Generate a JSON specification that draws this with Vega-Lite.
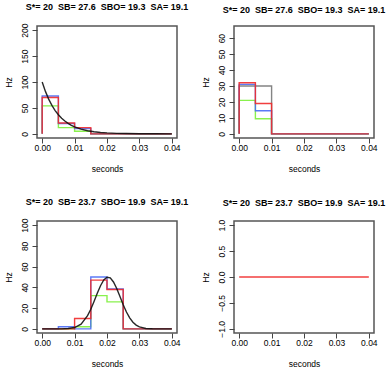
{
  "$schema": "https://vega.github.io/schema/vega-lite/v6.json",
  "autosize": {"type": "pad"},
  "padding": {"left": 3, "top": 2, "right": 2, "bottom": 2},
  "background": "white",
  "bounds": "flush",
  "columns": 2,
  "spacing": {"row": 83, "column": 57},
  "config": {
    "font": "Liberation Sans",
    "view": {"stroke": "#555555", "strokeWidth": 1.5},
    "title": {"fontSize": 9, "fontWeight": "bold", "font": "Liberation Sans", "offset": 11, "anchor": "middle", "color": "#000000"},
    "axis": {"domain": false, "grid": false, "tickSize": 5, "tickColor": "#444444", "labelFont": "Liberation Sans", "labelFontSize": 8.5, "labelColor": "#000000", "titleFont": "Liberation Sans", "titleFontSize": 8.5, "titleFontWeight": "normal", "titleColor": "#000000", "labelOverlap": false},
    "axisX": {"labelPadding": 0, "titlePadding": 13, "labelFlush": false},
    "axisY": {"labelAngle": 270, "labelAlign": "center", "labelBaseline": "bottom", "labelPadding": 3, "titleX": -29, "titleY": 56, "titleAlign": "center", "titleBaseline": "middle", "titleAngle": 270},
    "line": {"strokeWidth": 1.4, "opacity": 0.9}
  },
  "datasets": {
    "d": [
      {"p": 1, "s": "green", "o": 1, "x": 0, "y": 0},
      {"p": 1, "s": "green", "o": 2, "x": 0, "y": 54},
      {"p": 1, "s": "green", "o": 3, "x": 0.005, "y": 54},
      {"p": 1, "s": "green", "o": 4, "x": 0.005, "y": 12},
      {"p": 1, "s": "green", "o": 5, "x": 0.01, "y": 12},
      {"p": 1, "s": "green", "o": 6, "x": 0.01, "y": 5},
      {"p": 1, "s": "green", "o": 7, "x": 0.015, "y": 5},
      {"p": 1, "s": "green", "o": 8, "x": 0.015, "y": 0},
      {"p": 1, "s": "green", "o": 9, "x": 0.04, "y": 0},
      {"p": 1, "s": "blue", "o": 1, "x": 0, "y": 0},
      {"p": 1, "s": "blue", "o": 2, "x": 0, "y": 73},
      {"p": 1, "s": "blue", "o": 3, "x": 0.005, "y": 73},
      {"p": 1, "s": "blue", "o": 4, "x": 0.005, "y": 20},
      {"p": 1, "s": "blue", "o": 5, "x": 0.01, "y": 20},
      {"p": 1, "s": "blue", "o": 6, "x": 0.01, "y": 10},
      {"p": 1, "s": "blue", "o": 7, "x": 0.015, "y": 10},
      {"p": 1, "s": "blue", "o": 8, "x": 0.015, "y": 0},
      {"p": 1, "s": "blue", "o": 9, "x": 0.04, "y": 0},
      {"p": 1, "s": "red", "o": 1, "x": 0, "y": 0},
      {"p": 1, "s": "red", "o": 2, "x": 0, "y": 70},
      {"p": 1, "s": "red", "o": 3, "x": 0.005, "y": 70},
      {"p": 1, "s": "red", "o": 4, "x": 0.005, "y": 21},
      {"p": 1, "s": "red", "o": 5, "x": 0.01, "y": 21},
      {"p": 1, "s": "red", "o": 6, "x": 0.01, "y": 12},
      {"p": 1, "s": "red", "o": 7, "x": 0.015, "y": 12},
      {"p": 1, "s": "red", "o": 8, "x": 0.015, "y": 0},
      {"p": 1, "s": "red", "o": 9, "x": 0.04, "y": 0},
      {"p": 1, "s": "black", "o": 1, "x": 0, "y": 100},
      {"p": 1, "s": "black", "o": 2, "x": 0.001, "y": 81.9},
      {"p": 1, "s": "black", "o": 3, "x": 0.002, "y": 67},
      {"p": 1, "s": "black", "o": 4, "x": 0.003, "y": 54.9},
      {"p": 1, "s": "black", "o": 5, "x": 0.004, "y": 44.9},
      {"p": 1, "s": "black", "o": 6, "x": 0.005, "y": 36.8},
      {"p": 1, "s": "black", "o": 7, "x": 0.006, "y": 30.1},
      {"p": 1, "s": "black", "o": 8, "x": 0.007, "y": 24.7},
      {"p": 1, "s": "black", "o": 9, "x": 0.008, "y": 20.2},
      {"p": 1, "s": "black", "o": 10, "x": 0.009, "y": 16.5},
      {"p": 1, "s": "black", "o": 11, "x": 0.01, "y": 13.5},
      {"p": 1, "s": "black", "o": 12, "x": 0.012, "y": 9.1},
      {"p": 1, "s": "black", "o": 13, "x": 0.014, "y": 6.1},
      {"p": 1, "s": "black", "o": 14, "x": 0.016, "y": 4.1},
      {"p": 1, "s": "black", "o": 15, "x": 0.018, "y": 2.7},
      {"p": 1, "s": "black", "o": 16, "x": 0.02, "y": 1.8},
      {"p": 1, "s": "black", "o": 17, "x": 0.023, "y": 1},
      {"p": 1, "s": "black", "o": 18, "x": 0.026, "y": 0.6},
      {"p": 1, "s": "black", "o": 19, "x": 0.03, "y": 0.2},
      {"p": 1, "s": "black", "o": 20, "x": 0.035, "y": 0.1},
      {"p": 1, "s": "black", "o": 21, "x": 0.04, "y": 0},
      {"p": 2, "s": "gray", "o": 1, "x": 0, "y": 0},
      {"p": 2, "s": "gray", "o": 2, "x": 0, "y": 30},
      {"p": 2, "s": "gray", "o": 3, "x": 0.01, "y": 30},
      {"p": 2, "s": "gray", "o": 4, "x": 0.01, "y": 0},
      {"p": 2, "s": "gray", "o": 5, "x": 0.04, "y": 0},
      {"p": 2, "s": "green", "o": 1, "x": 0, "y": 0},
      {"p": 2, "s": "green", "o": 2, "x": 0, "y": 21},
      {"p": 2, "s": "green", "o": 3, "x": 0.005, "y": 21},
      {"p": 2, "s": "green", "o": 4, "x": 0.005, "y": 9.5},
      {"p": 2, "s": "green", "o": 5, "x": 0.01, "y": 9.5},
      {"p": 2, "s": "green", "o": 6, "x": 0.01, "y": 0},
      {"p": 2, "s": "green", "o": 7, "x": 0.04, "y": 0},
      {"p": 2, "s": "blue", "o": 1, "x": 0, "y": 0},
      {"p": 2, "s": "blue", "o": 2, "x": 0, "y": 31},
      {"p": 2, "s": "blue", "o": 3, "x": 0.005, "y": 31},
      {"p": 2, "s": "blue", "o": 4, "x": 0.005, "y": 14.5},
      {"p": 2, "s": "blue", "o": 5, "x": 0.01, "y": 14.5},
      {"p": 2, "s": "blue", "o": 6, "x": 0.01, "y": 0},
      {"p": 2, "s": "blue", "o": 7, "x": 0.04, "y": 0},
      {"p": 2, "s": "red", "o": 1, "x": 0, "y": 0},
      {"p": 2, "s": "red", "o": 2, "x": 0, "y": 32},
      {"p": 2, "s": "red", "o": 3, "x": 0.005, "y": 32},
      {"p": 2, "s": "red", "o": 4, "x": 0.005, "y": 19},
      {"p": 2, "s": "red", "o": 5, "x": 0.01, "y": 19},
      {"p": 2, "s": "red", "o": 6, "x": 0.01, "y": 0},
      {"p": 2, "s": "red", "o": 7, "x": 0.04, "y": 0},
      {"p": 3, "s": "green", "o": 1, "x": 0, "y": 0},
      {"p": 3, "s": "green", "o": 2, "x": 0.01, "y": 0},
      {"p": 3, "s": "green", "o": 3, "x": 0.01, "y": 2},
      {"p": 3, "s": "green", "o": 4, "x": 0.015, "y": 2},
      {"p": 3, "s": "green", "o": 5, "x": 0.015, "y": 32},
      {"p": 3, "s": "green", "o": 6, "x": 0.02, "y": 32},
      {"p": 3, "s": "green", "o": 7, "x": 0.02, "y": 26},
      {"p": 3, "s": "green", "o": 8, "x": 0.025, "y": 26},
      {"p": 3, "s": "green", "o": 9, "x": 0.025, "y": 0},
      {"p": 3, "s": "green", "o": 10, "x": 0.04, "y": 0},
      {"p": 3, "s": "blue", "o": 1, "x": 0, "y": 0},
      {"p": 3, "s": "blue", "o": 2, "x": 0.005, "y": 0},
      {"p": 3, "s": "blue", "o": 3, "x": 0.005, "y": 2},
      {"p": 3, "s": "blue", "o": 4, "x": 0.01, "y": 2},
      {"p": 3, "s": "blue", "o": 5, "x": 0.01, "y": 0},
      {"p": 3, "s": "blue", "o": 6, "x": 0.015, "y": 0},
      {"p": 3, "s": "blue", "o": 7, "x": 0.015, "y": 50},
      {"p": 3, "s": "blue", "o": 8, "x": 0.02, "y": 50},
      {"p": 3, "s": "blue", "o": 9, "x": 0.02, "y": 38.5},
      {"p": 3, "s": "blue", "o": 10, "x": 0.025, "y": 38.5},
      {"p": 3, "s": "blue", "o": 11, "x": 0.025, "y": 0},
      {"p": 3, "s": "blue", "o": 12, "x": 0.04, "y": 0},
      {"p": 3, "s": "red", "o": 1, "x": 0, "y": 0},
      {"p": 3, "s": "red", "o": 2, "x": 0.01, "y": 0},
      {"p": 3, "s": "red", "o": 3, "x": 0.01, "y": 10},
      {"p": 3, "s": "red", "o": 4, "x": 0.015, "y": 10},
      {"p": 3, "s": "red", "o": 5, "x": 0.015, "y": 47},
      {"p": 3, "s": "red", "o": 6, "x": 0.02, "y": 47},
      {"p": 3, "s": "red", "o": 7, "x": 0.02, "y": 38},
      {"p": 3, "s": "red", "o": 8, "x": 0.025, "y": 38},
      {"p": 3, "s": "red", "o": 9, "x": 0.025, "y": 0},
      {"p": 3, "s": "red", "o": 10, "x": 0.04, "y": 0},
      {"p": 3, "s": "black", "o": 1, "x": 0, "y": 0},
      {"p": 3, "s": "black", "o": 2, "x": 0.006, "y": 0},
      {"p": 3, "s": "black", "o": 3, "x": 0.008, "y": 0.3},
      {"p": 3, "s": "black", "o": 4, "x": 0.01, "y": 1.3},
      {"p": 3, "s": "black", "o": 5, "x": 0.012, "y": 4.6},
      {"p": 3, "s": "black", "o": 6, "x": 0.014, "y": 12.7},
      {"p": 3, "s": "black", "o": 7, "x": 0.015, "y": 18.9},
      {"p": 3, "s": "black", "o": 8, "x": 0.016, "y": 26.4},
      {"p": 3, "s": "black", "o": 9, "x": 0.017, "y": 34.3},
      {"p": 3, "s": "black", "o": 10, "x": 0.018, "y": 41.6},
      {"p": 3, "s": "black", "o": 11, "x": 0.019, "y": 47.2},
      {"p": 3, "s": "black", "o": 12, "x": 0.02, "y": 49.8},
      {"p": 3, "s": "black", "o": 13, "x": 0.021, "y": 49.2},
      {"p": 3, "s": "black", "o": 14, "x": 0.022, "y": 45.2},
      {"p": 3, "s": "black", "o": 15, "x": 0.023, "y": 38.9},
      {"p": 3, "s": "black", "o": 16, "x": 0.024, "y": 31.1},
      {"p": 3, "s": "black", "o": 17, "x": 0.025, "y": 23.3},
      {"p": 3, "s": "black", "o": 18, "x": 0.026, "y": 16.2},
      {"p": 3, "s": "black", "o": 19, "x": 0.027, "y": 10.6},
      {"p": 3, "s": "black", "o": 20, "x": 0.028, "y": 6.4},
      {"p": 3, "s": "black", "o": 21, "x": 0.029, "y": 3.6},
      {"p": 3, "s": "black", "o": 22, "x": 0.03, "y": 1.9},
      {"p": 3, "s": "black", "o": 23, "x": 0.032, "y": 0.4},
      {"p": 3, "s": "black", "o": 24, "x": 0.034, "y": 0.1},
      {"p": 3, "s": "black", "o": 25, "x": 0.04, "y": 0},
      {"p": 4, "s": "red", "o": 1, "x": 0, "y": 0},
      {"p": 4, "s": "red", "o": 2, "x": 0.04, "y": 0}
    ]
  },
  "concat": [
    {
      "width": 140, "height": 112,
      "title": "S*= 20\u00a0\u00a0SB= 27.6\u00a0\u00a0SBO= 19.3\u00a0\u00a0SA= 19.1",
      "data": {"name": "d"},
      "transform": [{"filter": "datum.p == 1"}],
      "mark": {"type": "line", "clip": true},
      "encoding": {
        "x": {"field": "x", "type": "quantitative", "scale": {"domain": [-0.0016, 0.0416], "nice": false, "zero": false}, "axis": {"values": [0, 0.01, 0.02, 0.03, 0.04], "format": ".2f", "title": "seconds"}},
        "y": {"field": "y", "type": "quantitative", "scale": {"domain": [-8, 208], "nice": false, "zero": false}, "axis": {"values": [0, 50, 100, 150, 200], "format": "d", "title": "Hz"}},
        "color": {"field": "s", "type": "nominal", "scale": {"domain": ["black", "gray", "green", "blue", "red"], "range": ["#111111", "#777777", "#7cf03a", "#4a6cf5", "#f02a2a"]}, "legend": null},
        "order": {"field": "o", "type": "quantitative"}
      }
    },
    {
      "width": 140, "height": 112,
      "title": "S*= 20\u00a0\u00a0SB= 27.6\u00a0\u00a0SBO= 19.3\u00a0\u00a0SA= 19.1",
      "data": {"name": "d"},
      "transform": [{"filter": "datum.p == 2"}],
      "mark": {"type": "line", "clip": true},
      "encoding": {
        "x": {"field": "x", "type": "quantitative", "scale": {"domain": [-0.0016, 0.0416], "nice": false, "zero": false}, "axis": {"values": [0, 0.01, 0.02, 0.03, 0.04], "format": ".2f", "title": "seconds"}},
        "y": {"field": "y", "type": "quantitative", "scale": {"domain": [-2.6, 67.6], "nice": false, "zero": false}, "axis": {"values": [0, 10, 20, 30, 40, 50, 60], "format": "d", "title": "Hz"}},
        "color": {"field": "s", "type": "nominal", "scale": {"domain": ["black", "gray", "green", "blue", "red"], "range": ["#111111", "#777777", "#7cf03a", "#4a6cf5", "#f02a2a"]}, "legend": null},
        "order": {"field": "o", "type": "quantitative"}
      }
    },
    {
      "width": 140, "height": 112,
      "title": "S*= 20\u00a0\u00a0SB= 23.7\u00a0\u00a0SBO= 19.9\u00a0\u00a0SA= 19.1",
      "data": {"name": "d"},
      "transform": [{"filter": "datum.p == 3"}],
      "mark": {"type": "line", "clip": true},
      "encoding": {
        "x": {"field": "x", "type": "quantitative", "scale": {"domain": [-0.0016, 0.0416], "nice": false, "zero": false}, "axis": {"values": [0, 0.01, 0.02, 0.03, 0.04], "format": ".2f", "title": "seconds"}},
        "y": {"field": "y", "type": "quantitative", "scale": {"domain": [-4, 104], "nice": false, "zero": false}, "axis": {"values": [0, 20, 40, 60, 80, 100], "format": "d", "title": "Hz"}},
        "color": {"field": "s", "type": "nominal", "scale": {"domain": ["black", "gray", "green", "blue", "red"], "range": ["#111111", "#777777", "#7cf03a", "#4a6cf5", "#f02a2a"]}, "legend": null},
        "order": {"field": "o", "type": "quantitative"}
      }
    },
    {
      "width": 140, "height": 112,
      "title": "S*= 20\u00a0\u00a0SB= 23.7\u00a0\u00a0SBO= 19.9\u00a0\u00a0SA= 19.1",
      "data": {"name": "d"},
      "transform": [{"filter": "datum.p == 4"}],
      "mark": {"type": "line", "clip": true},
      "encoding": {
        "x": {"field": "x", "type": "quantitative", "scale": {"domain": [-0.0016, 0.0416], "nice": false, "zero": false}, "axis": {"values": [0, 0.01, 0.02, 0.03, 0.04], "format": ".2f", "title": "seconds"}},
        "y": {"field": "y", "type": "quantitative", "scale": {"domain": [-1.08, 1.08], "nice": false, "zero": false}, "axis": {"values": [-1, -0.5, 0, 0.5, 1], "format": ".1f", "title": "Hz"}},
        "color": {"field": "s", "type": "nominal", "scale": {"domain": ["black", "gray", "green", "blue", "red"], "range": ["#111111", "#777777", "#7cf03a", "#4a6cf5", "#f02a2a"]}, "legend": null},
        "order": {"field": "o", "type": "quantitative"}
      }
    }
  ]
}
